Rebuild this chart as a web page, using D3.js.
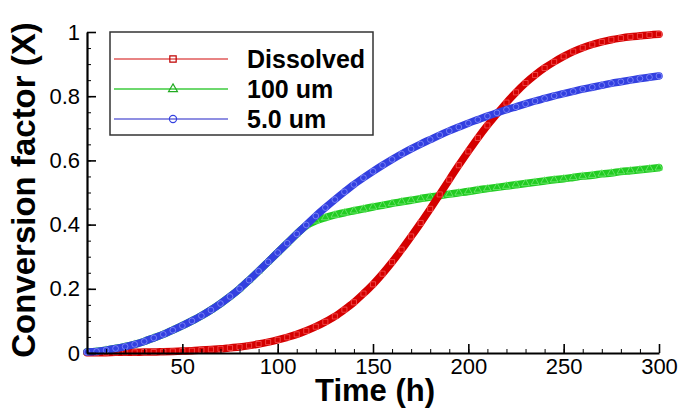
<!DOCTYPE html>
<html>
<head>
<meta charset="utf-8">
<script src="https://cdn.jsdelivr.net/npm/d3@7"></script>
<style>
  html, body { margin: 0; padding: 0; background: #fff; }
  svg { display: block; }
</style>
</head>
<body>
<svg id="chart" width="685" height="420"></svg>
<script>
// ---- data ----
const times = d3.range(0, 301, 5); // hours, 5 h steps (0..300)

const dissolved = [
  0.001, 0.001, 0.001, 0.002, 0.002, 0.002, 0.003, 0.003, 0.004, 0.005,
  0.006, 0.007, 0.009, 0.011, 0.013, 0.016, 0.019, 0.023, 0.028, 0.034,
  0.041, 0.049, 0.058, 0.069, 0.082, 0.097, 0.114, 0.135, 0.158, 0.185,
  0.214, 0.247, 0.283, 0.322, 0.363, 0.405, 0.449, 0.494, 0.540, 0.585,
  0.628, 0.670, 0.709, 0.745, 0.780, 0.812, 0.841, 0.866, 0.888, 0.907,
  0.924, 0.939, 0.951, 0.961, 0.969, 0.976, 0.981, 0.985, 0.988, 0.991,
  0.993
];

const um5 = [
  0.003, 0.005, 0.009, 0.014, 0.020, 0.027, 0.036, 0.047, 0.058, 0.071,
  0.085, 0.100, 0.116, 0.134, 0.154, 0.176, 0.200, 0.227, 0.255, 0.284,
  0.313, 0.342, 0.371, 0.399, 0.427, 0.453, 0.478, 0.502, 0.525, 0.546,
  0.566, 0.585, 0.603, 0.620, 0.636, 0.651, 0.665, 0.679, 0.692, 0.704,
  0.716, 0.727, 0.738, 0.748, 0.758, 0.767, 0.776, 0.785, 0.793, 0.801,
  0.808, 0.815, 0.822, 0.828, 0.834, 0.840, 0.845, 0.850, 0.855, 0.859,
  0.863
];

const um100 = [
  0.003, 0.005, 0.009, 0.014, 0.020, 0.027, 0.036, 0.047, 0.058, 0.071,
  0.085, 0.100, 0.116, 0.134, 0.154, 0.176, 0.200, 0.227, 0.255, 0.284,
  0.313, 0.342, 0.371, 0.397, 0.412, 0.422, 0.430, 0.437, 0.443, 0.449,
  0.455, 0.460, 0.466, 0.471, 0.476, 0.481, 0.486, 0.490, 0.495, 0.499,
  0.503, 0.508, 0.512, 0.516, 0.520, 0.524, 0.528, 0.532, 0.536, 0.540,
  0.543, 0.547, 0.551, 0.554, 0.558, 0.561, 0.565, 0.568, 0.571, 0.574,
  0.577
];

const seriesNames = ["Dissolved", "100 um", "5.0 um"];
const xTickValues = [50, 100, 150, 200, 250, 300];
const xMinorTicks = d3.range(0, 301, 10);
const yTickValues = [0, 0.2, 0.4, 0.6, 0.8, 1];
const yTickLabels = ["0", "0.2", "0.4", "0.6", "0.8", "1"];
const yMinorTicks = d3.range(0, 1.0001, 0.05);
const xTitle = "Time (h)";
const yTitle = "Conversion factor (X)";

// ---- styles ----
const series = [
  { name: seriesNames[0], values: dissolved, color: "#d40000", mark: "#ff6a6a", legend: "#e05a5a", legendMark: "#c00000", symbol: d3.symbolSquare },
  { name: seriesNames[1], values: um100,     color: "#22cc22", mark: "#8cf08c", legend: "#3ecb3e", legendMark: "#22aa22", symbol: d3.symbolTriangle },
  { name: seriesNames[2], values: um5,       color: "#3340e0", mark: "#98a0ff", legend: "#6a6ad8", legendMark: "#3340e0", symbol: d3.symbolCircle }
];
const drawOrder = [1, 0, 2];

const svg = d3.select("#chart");
const x = d3.scaleLinear().domain([0, 300]).range([87, 659]);
const y = d3.scaleLinear().domain([0, 1]).range([353, 32]);
const FONT = "'Liberation Sans', Arial, Helvetica, sans-serif";

// ---- curves ----
const line = d3.line()
  .x((d, i) => x(times[i]))
  .y(d => y(d))
  .curve(d3.curveMonotoneX);

const plot = svg.append("g");
drawOrder.forEach(k => {
  const s = series[k];
  plot.append("path")
    .attr("d", line(s.values))
    .attr("fill", "none")
    .attr("stroke", s.color)
    .attr("stroke-width", 7.5)
    .attr("stroke-linecap", "round")
    .attr("stroke-linejoin", "round");
  plot.selectAll(null)
    .data(s.values)
    .enter()
    .append("path")
    .attr("d", d3.symbol().type(s.symbol).size(26))
    .attr("transform", (d, i) => `translate(${x(times[i])},${y(d)})`)
    .attr("fill", "none")
    .attr("stroke", s.mark)
    .attr("stroke-width", 0.8)
    .attr("opacity", 0.8);
});

// ---- axes ----
const xMinor = svg.append("g")
  .attr("transform", `translate(0,${y(0)})`)
  .call(d3.axisBottom(x).tickValues(xMinorTicks).tickSizeInner(-4).tickSizeOuter(0).tickFormat(""));
xMinor.select(".domain").remove();
xMinor.selectAll("line").attr("stroke", "#000").attr("stroke-width", 1);

const xAxis = svg.append("g")
  .attr("transform", `translate(0,${y(0)})`)
  .call(d3.axisBottom(x).tickValues(xTickValues).tickSizeInner(-9).tickSizeOuter(0).tickPadding(5));
xAxis.select(".domain").attr("stroke", "#000").attr("stroke-width", 2.2);
xAxis.selectAll("line").attr("stroke", "#000").attr("stroke-width", 1.6);
xAxis.selectAll("text")
  .attr("font-family", FONT).attr("font-size", 22).attr("fill", "#000");

const yMinor = svg.append("g")
  .attr("transform", `translate(${x(0)},0)`)
  .call(d3.axisLeft(y).tickValues(yMinorTicks).tickSizeInner(-4).tickSizeOuter(0).tickFormat(""));
yMinor.select(".domain").remove();
yMinor.selectAll("line").attr("stroke", "#000").attr("stroke-width", 1);

const yAxis = svg.append("g")
  .attr("transform", `translate(${x(0)},0)`)
  .call(d3.axisLeft(y).tickValues(yTickValues).tickSizeInner(-9).tickSizeOuter(0).tickPadding(7)
    .tickFormat((d, i) => yTickLabels[i]));
yAxis.select(".domain").attr("stroke", "#000").attr("stroke-width", 2.2);
yAxis.selectAll("line").attr("stroke", "#000").attr("stroke-width", 1.6);
yAxis.selectAll("text")
  .attr("font-family", FONT).attr("font-size", 22).attr("fill", "#000");

// ---- titles ----
svg.append("text")
  .attr("x", 375).attr("y", 401)
  .attr("text-anchor", "middle")
  .attr("font-family", FONT).attr("font-weight", "bold").attr("font-size", 31)
  .text(xTitle);

svg.append("text")
  .attr("transform", "translate(35,190) rotate(-90)")
  .attr("text-anchor", "middle")
  .attr("font-family", FONT).attr("font-weight", "bold").attr("font-size", 33)
  .text(yTitle);

// ---- legend ----
const legend = svg.append("g");
legend.append("rect")
  .attr("x", 110).attr("y", 32).attr("width", 263).attr("height", 103)
  .attr("fill", "#fff").attr("stroke", "#333").attr("stroke-width", 1.5);
const rowY = d3.scalePoint().domain(seriesNames).range([59, 119]);
series.forEach(s => {
  const yy = rowY(s.name);
  legend.append("line")
    .attr("x1", 114).attr("x2", 228).attr("y1", yy).attr("y2", yy)
    .attr("stroke", s.legend).attr("stroke-width", 1.5);
  legend.append("path")
    .attr("d", d3.symbol().type(s.symbol).size(s.symbol === d3.symbolTriangle ? 34 : 40))
    .attr("transform", `translate(173,${yy})`)
    .attr("fill", "none").attr("stroke", s.legendMark)
    .attr("stroke-width", 1.2);
  legend.append("text")
    .attr("x", 247).attr("y", yy + 9)
    .attr("font-family", FONT).attr("font-weight", "bold").attr("font-size", 25)
    .text(s.name);
});
</script>
</body>
</html>
